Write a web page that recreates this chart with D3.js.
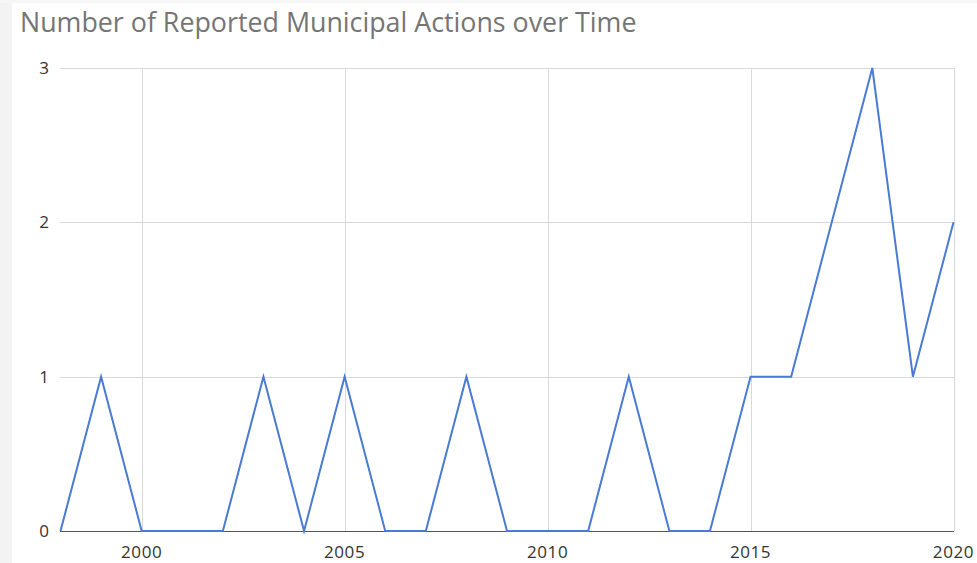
<!DOCTYPE html>
<html><head><meta charset="utf-8">
<script src="https://cdn.jsdelivr.net/npm/d3@7/dist/d3.min.js"></script>
<style>body{margin:0;background:#fff;}svg{display:block;}</style>
</head><body>
<svg id="c" width="977" height="563"></svg>
<script>
const years = [1998,1999,2000,2001,2002,2003,2004,2005,2006,2007,2008,2009,2010,2011,2012,2013,2014,2015,2016,2017,2018,2019,2020];
const actions = [0,1,0,0,0,1,0,1,0,0,1,0,0,0,1,0,0,1,1,2,3,1,2];
const xTicks = [2000,2005,2010,2015,2020];
const yTicks = [0,1,2,3];
const title = "Number of Reported Municipal Actions over Time";

const svg = d3.select("#c");
svg.append("rect").attr("x",0).attr("y",0).attr("width",12).attr("height",563).attr("fill","#f3f3f3");
svg.append("rect").attr("x",0).attr("y",0).attr("width",977).attr("height",3).attr("fill","#f6f6f6");

const x = d3.scaleLinear().domain([1998,2020]).range([60.5,953.5]);
const y = d3.scaleLinear().domain([0,3]).range([531,68]);

svg.append("text").attr("x",20).attr("y",32)
  .attr("font-family","Open Sans, sans-serif").attr("font-size",26.8)
  .attr("fill","#757575").text(title);

// gridlines
svg.append("g").selectAll("line").data(yTicks.filter(d=>d>0)).join("line")
  .attr("x1",60).attr("x2",954).attr("y1",d=>Math.round(y(d))+0.5).attr("y2",d=>Math.round(y(d))+0.5)
  .attr("stroke","#d9d9d9").attr("stroke-width",1);
svg.append("g").selectAll("line").data(xTicks).join("line")
  .attr("x1",d=>Math.round(x(d))+0.5).attr("x2",d=>Math.round(x(d))+0.5).attr("y1",68).attr("y2",531)
  .attr("stroke","#d9d9d9").attr("stroke-width",1);

// y labels
svg.append("g").selectAll("text").data(yTicks).join("text")
  .attr("x",49).attr("y",d=>y(d)+6).attr("text-anchor","end")
  .attr("font-family","Open Sans, sans-serif").attr("font-size",17).attr("fill","#333")
  .text(d=>d);
// x labels
svg.append("g").selectAll("text").data(xTicks).join("text")
  .attr("x",d=>x(d)).attr("y",558).attr("text-anchor","middle")
  .attr("font-family","Open Sans, sans-serif").attr("font-size",17).attr("letter-spacing",0.6).attr("fill","#333")
  .text(d=>d);

// axis line
svg.append("line").attr("x1",60).attr("x2",954).attr("y1",531.5).attr("y2",531.5)
  .attr("stroke","#555").attr("stroke-width",1.2);

const line = d3.line().x((d,i)=>x(years[i])).y(d=>y(d));
svg.append("path").datum(actions).attr("d",line)
  .attr("fill","none").attr("stroke","#4a7bd4").attr("stroke-width",2).attr("stroke-linejoin","miter");
</script>
</body></html>
